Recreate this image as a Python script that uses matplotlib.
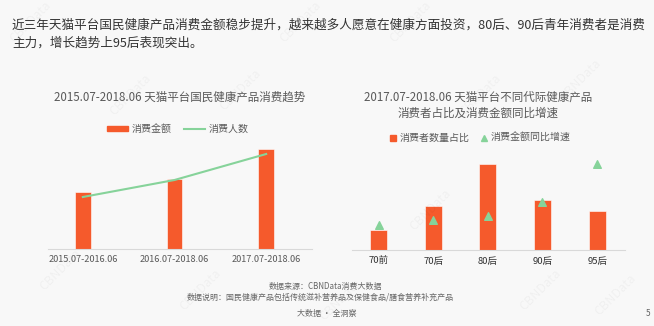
import matplotlib
matplotlib.use("Agg")
import matplotlib.pyplot as plt
from matplotlib.lines import Line2D
from matplotlib.patches import Rectangle

plt.rcParams['font.family'] = ['Noto Sans CJK SC', 'DejaVu Sans']

# ---- data ----
periods = ["2015.07-2016.06", "2016.07-2018.06", "2017.07-2018.06"]
spend_amount = [57, 70, 100]       # 消费金额 (relative)
spend_people = [52, 69, 95]        # 消费人数 (relative)

gens = ["70前", "70后", "80后", "90后", "95后"]
consumer_share = [8.4, 18.4, 36.0, 20.9, 16.3]   # 消费者数量占比 %
amount_growth = [30, 36, 41, 58, 104]            # 消费金额同比增速 %

BG = "#f8f8f8"
ORANGE = "#f55a2c"
GREEN = "#86d39a"
TXT = "#595959"
W, H = 654, 326

fig = plt.figure(figsize=(W / 100, H / 100), dpi=100)
fig.patch.set_facecolor(BG)

def px_axes(x0, y0, x1, y1):
    # pixel box (top-left origin) -> figure axes
    return fig.add_axes([x0 / W, 1 - y1 / H, (x1 - x0) / W, (y1 - y0) / H])

# faint watermarks
for wx, wy in [(30, 22), (130, 95), (240, 90), (60, 270), (200, 290), (340, 300),
               (480, 95), (580, 80), (430, 210), (540, 290), (615, 295), (300, 22), (410, 22)]:
    fig.text(wx / W, 1 - wy / H, "CBNData", rotation=45, fontsize=9, color="#000000",
             alpha=0.035, ha="center", va="center")

# header
fig.text(12 / W, 1 - 25 / H, "近三年天猫平台国民健康产品消费金额稳步提升，越来越多人愿意在健康方面投资，80后、90后青年消费者是消费",
         fontsize=9.05, color="#333333", va="center", ha="left")
fig.text(12 / W, 1 - 43 / H, "主力，增长趋势上95后表现突出。",
         fontsize=9.05, color="#333333", va="center", ha="left")

# ---- left chart ----
ax = px_axes(48, 139, 312, 249)
ax.set_facecolor("none")
xs = range(len(periods))
ax.bar(xs, spend_amount, width=0.17, color=ORANGE, edgecolor="white", linewidth=0.4, zorder=2)
ax.plot(xs, spend_people, color=GREEN, lw=1.5, zorder=3)
ax.set_xlim(-0.38, 2.5)
ax.set_ylim(0, 110)
ax.set_xticks(list(xs))
ax.set_xticklabels(periods, fontsize=6.6, color=TXT)
ax.tick_params(axis="x", length=0, pad=4)
ax.set_yticks([])
for s in ["top", "right", "left"]:
    ax.spines[s].set_visible(False)
ax.spines["bottom"].set_color("#d9d9d9")
ax.spines["bottom"].set_linewidth(0.8)

fig.text(180 / W, 1 - 97 / H, "2015.07-2018.06 天猫平台国民健康产品消费趋势",
         fontsize=8.3, color=TXT, ha="center", va="center")
h1 = [Rectangle((0, 0), 1, 1, color=ORANGE), Line2D([], [], color=GREEN, lw=1.5)]
fig.legend(h1, ["消费金额", "消费人数"], loc="center", bbox_to_anchor=(178 / W, 1 - 129 / H),
           ncol=2, frameon=False, fontsize=7.2, handlelength=2.1, handleheight=0.5,
           columnspacing=1.2, handletextpad=0.4, labelcolor=TXT)

# ---- right chart ----
ax2 = px_axes(352, 140, 625, 250)
ax2.set_facecolor("none")
gx = range(len(gens))
ax2.bar(gx, consumer_share, width=0.31, color=ORANGE, edgecolor="white", linewidth=0.4, zorder=2)
ax2.set_xlim(-0.485, 4.51)
ax2.set_ylim(0, 46.05)
ax2.set_xticks(list(gx))
ax2.set_xticklabels(gens, fontsize=6.8, color="#333333")
ax2.tick_params(axis="x", length=0, pad=5)
ax2.set_yticks([])
for s in ["top", "right", "left"]:
    ax2.spines[s].set_visible(False)
ax2.spines["bottom"].set_color("#d9d9d9")
ax2.spines["bottom"].set_linewidth(0.8)

ax3 = ax2.twinx()
ax3.scatter(list(gx), amount_growth, marker="^", s=30, color=GREEN, zorder=4)
ax3.set_ylim(0, 133)
ax3.set_yticks([])
for s in ax3.spines.values():
    s.set_visible(False)

fig.text(478 / W, 1 - 97 / H, "2017.07-2018.06 天猫平台不同代际健康产品",
         fontsize=8.3, color=TXT, ha="center", va="center")
fig.text(478 / W, 1 - 113 / H, "消费者占比及消费金额同比增速",
         fontsize=8.3, color=TXT, ha="center", va="center")
h2 = [Line2D([], [], marker="s", ls="none", color=ORANGE, markersize=4),
      Line2D([], [], marker="^", ls="none", color=GREEN, markersize=5)]
fig.legend(h2, ["消费者数量占比", "消费金额同比增速"], loc="center",
           bbox_to_anchor=(480 / W, 1 - 138 / H), ncol=2, frameon=False, fontsize=7.2,
           handlelength=0.8, columnspacing=1.0, handletextpad=0.3, labelcolor=TXT)

# ---- footer ----
fig.text(325 / W, 1 - 287 / H, "数据来源：CBNData消费大数据", fontsize=5.75, color="#666666",
         ha="center", va="center")
fig.text(320 / W, 1 - 297 / H, "数据说明：国民健康产品包括传统滋补营养品及保健食品/膳食营养补充产品",
         fontsize=5.75, color="#666666", ha="center", va="center")
fig.text(327 / W, 1 - 313 / H, "大数据 · 全洞察", fontsize=5.8, color="#666666",
         ha="center", va="center")
fig.text(648 / W, 1 - 313 / H, "5", fontsize=6, color="#666666", ha="center", va="center")

fig.savefig("out.png", dpi=100, facecolor=BG)
